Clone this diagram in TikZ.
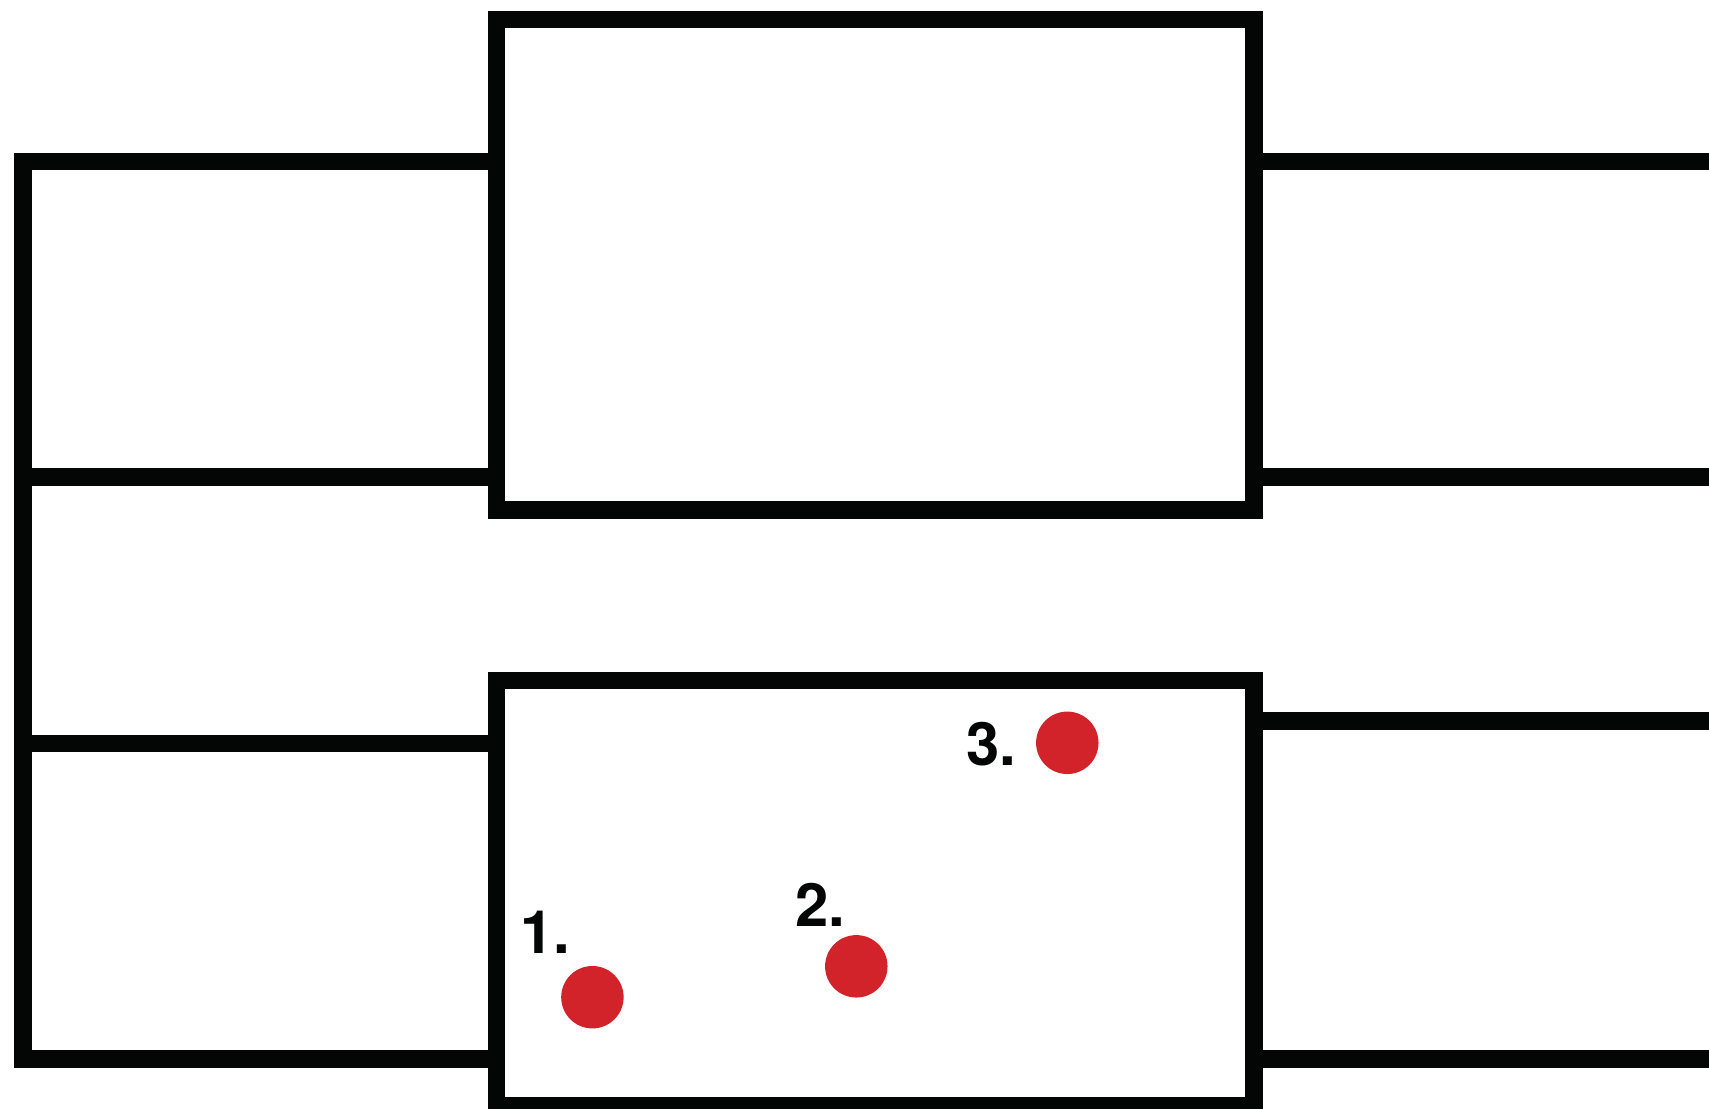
\documentclass[tikz,border=0pt]{standalone}
\usepackage{fontspec}
\setmainfont{TeX Gyre Heros}
\usepackage{tikz}
\usetikzlibrary{positioning}
\definecolor{planblack}{RGB}{4,6,5}
\definecolor{dotred}{RGB}{210,35,42}

\begin{document}
\begin{tikzpicture}[
  x=0.01cm, y=-0.01cm,
  wall/.style={draw=planblack, line width=0.176cm, line join=miter},
  spot/.style={circle, fill=dotred, inner sep=0pt, minimum size=0.624cm},
  num/.style={anchor=base east, inner sep=0pt, text=planblack, font=\fontsize{17}{20}\selectfont\bfseries},
]
\useasboundingbox (0,0) rectangle (1709,1108);
% left rooms
\draw[wall] (496.3,161.4) -- (23,161.4) -- (23,1059) -- (496.3,1059);
\draw[wall] (23,476.8) -- (496.3,476.8);
\draw[wall] (23,743.5) -- (496.3,743.5);
% right rooms
\foreach \y in {161.4,476.8,721.2,1059}
  \draw[wall] (1254.2,\y) -- (1720,\y);
% centre blocks
\draw[wall, fill=white] (496.3,19.3) rectangle (1254.2,510.2);
\draw[wall, fill=white] (496.3,680.5) rectangle (1254.2,1106);
% points
\node[spot] (p1) at (592.4,997.2) {};
\node[spot] (p2) at (856.3,966.3) {};
\node[spot] (p3) at (1067.3,742.8) {};
\node[num] (n1) at (571,953.3) {1.};
\node[num] (n2) at (846,926.7) {2.};
\node[num] (n3) at (1017,765) {3.};
\end{tikzpicture}
\end{document}
